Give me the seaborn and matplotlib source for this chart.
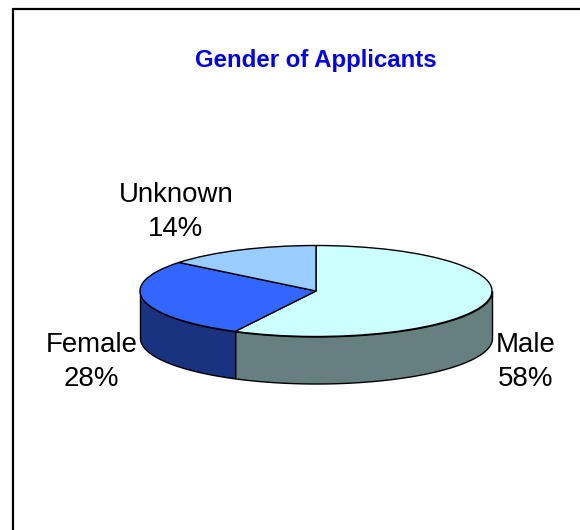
import numpy as np
import seaborn as sns
import matplotlib.pyplot as plt
from matplotlib.lines import Line2D

labels = ["Male", "Female", "Unknown"]
shares = [57.6, 28.2, 14.2]
top_colors = ["#CCFFFF", "#3366FF", "#99CCFF"]
side_colors = ["#668080", "#1A3380", "#4D6680"]
title = "Gender of Applicants"

sns.set_theme(style="white")
plt.rcParams['font.family'] = ['Liberation Sans', 'DejaVu Sans']

W, H = 580, 530
cx, cy, rx, ry, depth = 316, 291, 176, 45.5, 47

fig = plt.figure(figsize=(W / 100, H / 100), dpi=100, facecolor="white")
ax = fig.add_axes([0, 0, 1, 1])

# top of the pie, circle in data units, the axis limits squash it to an ellipse
ax.pie(shares, colors=top_colors, startangle=90, counterclock=False,
       wedgeprops=dict(edgecolor="black", linewidth=1.0, zorder=3))

# side wall, only the part facing the viewer
start = 90.0
for share, color in zip(shares, side_colors):
    end = start - share * 3.6
    lo, hi = max(end, -180), min(start, 0)
    if lo < hi:
        t = np.radians(np.linspace(hi, lo, 200))
        ax.fill_between(np.cos(t), np.sin(t), np.sin(t) - depth / ry,
                        facecolor=color, edgecolor="black", linewidth=1.0, zorder=2)
    start = end

ax.set_aspect("auto")
ax.set_xlim(-cx / rx, (W - cx) / rx)
ax.set_ylim((cy - H) / ry, cy / ry)
ax.axis("off")

fig.text(315.5 / W, 1 - 60 / H, title, color="#0000FF", fontsize=17.3, fontweight="bold",
         ha="center", va="center")

label_pos = [(525.5, 362), (91.5, 362), (176, 212)]
for name, share, (x, y) in zip(labels, shares, label_pos):
    fig.text(x / W, 1 - y / H, f"{name}\n{share:.0f}%", color="black", fontsize=19.9,
             ha="center", va="center", linespacing=1.41)

# outer frame, runs off the right and bottom of the image
fig.add_artist(Line2D([12.5 / W, 12.5 / W], [0, 1 - 9 / H], color="black", linewidth=1.6))
fig.add_artist(Line2D([12.5 / W, 1], [1 - 9 / H, 1 - 9 / H], color="black", linewidth=1.6))

fig.savefig("out.png", dpi=100)
